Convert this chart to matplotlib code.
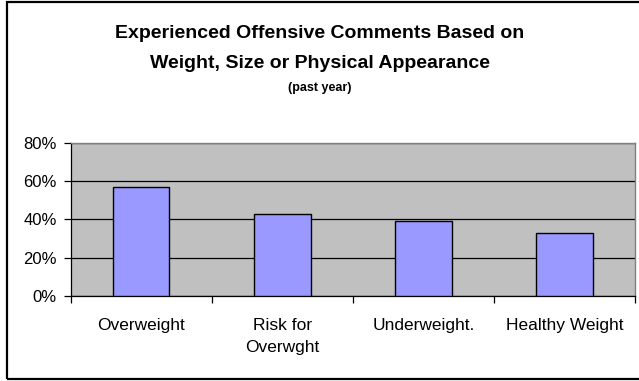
"""
Bar chart: share experiencing offensive comments about weight, size or appearance.
"""

import matplotlib.pyplot as plt
import numpy as np
from matplotlib.patches import Rectangle
from matplotlib.ticker import FixedLocator, FuncFormatter

plt.rcParams["font.family"] = ["Liberation Sans", "DejaVu Sans"]

categories = ["Overweight", "Risk for\nOverwght", "Underweight.", "Healthy Weight"]
percent = [57, 43, 39, 33]
y_ticks = [0, 20, 40, 60, 80]

fig = plt.figure(figsize=(6.39, 3.81), dpi=100)
ax = fig.add_axes([0.1106, 0.2239, 0.8831, 0.400])
ax.set_facecolor("#C0C0C0")

x = np.arange(len(categories))
ax.set_axisbelow(True)
ax.bar(x, percent, width=0.4, color="#9999FF", edgecolor="black", lw=1.0, zorder=3)

ax.set_xlim(-0.5, len(categories) - 0.5)
ax.set_ylim(0, 80)
ax.set_yticks(y_ticks)
ax.yaxis.set_major_formatter(FuncFormatter(lambda v, _: f"{v:.0f}%"))
ax.yaxis.grid(True, color="black", lw=0.9)
ax.tick_params(axis="y", direction="out", length=5, width=0.9, labelsize=12, pad=5)

# category labels centred, tick marks on the category boundaries
ax.xaxis.set_major_locator(FixedLocator(np.arange(len(categories) + 1) - 0.5))
ax.xaxis.set_major_formatter(FuncFormatter(lambda v, _: ""))
ax.xaxis.set_minor_locator(FixedLocator(x))
ax.set_xticklabels(categories, minor=True)
ax.tick_params(axis="x", which="major", direction="out", length=5, width=0.9)
ax.tick_params(axis="x", which="minor", length=0, labelsize=12.5, pad=16)
for lab in ax.get_xticklabels(minor=True):
    lab.set_linespacing(1.55)

for side in ("left", "bottom"):
    ax.spines[side].set_color("black")
    ax.spines[side].set_linewidth(0.9)
for side in ("top", "right"):
    ax.spines[side].set_color("#808080")
    ax.spines[side].set_linewidth(1.0)

fig.text(0.5, 1 - 33 / 381, "Experienced Offensive Comments Based on",
         ha="center", va="center", fontsize=14, fontweight="bold")
fig.text(0.5, 1 - 64 / 381, "Weight, Size or Physical Appearance",
         ha="center", va="center", fontsize=14, fontweight="bold")
fig.text(0.5, 1 - 88 / 381, "(past year)",
         ha="center", va="center", fontsize=9, fontweight="bold")

# chart-area border
fig.patches.append(Rectangle((7 / 639, 2 / 381), 640 / 639, 377 / 381,
                             transform=fig.transFigure, fill=False,
                             edgecolor="black", lw=1.6, clip_on=False))

fig.savefig("out.png", dpi=100)
